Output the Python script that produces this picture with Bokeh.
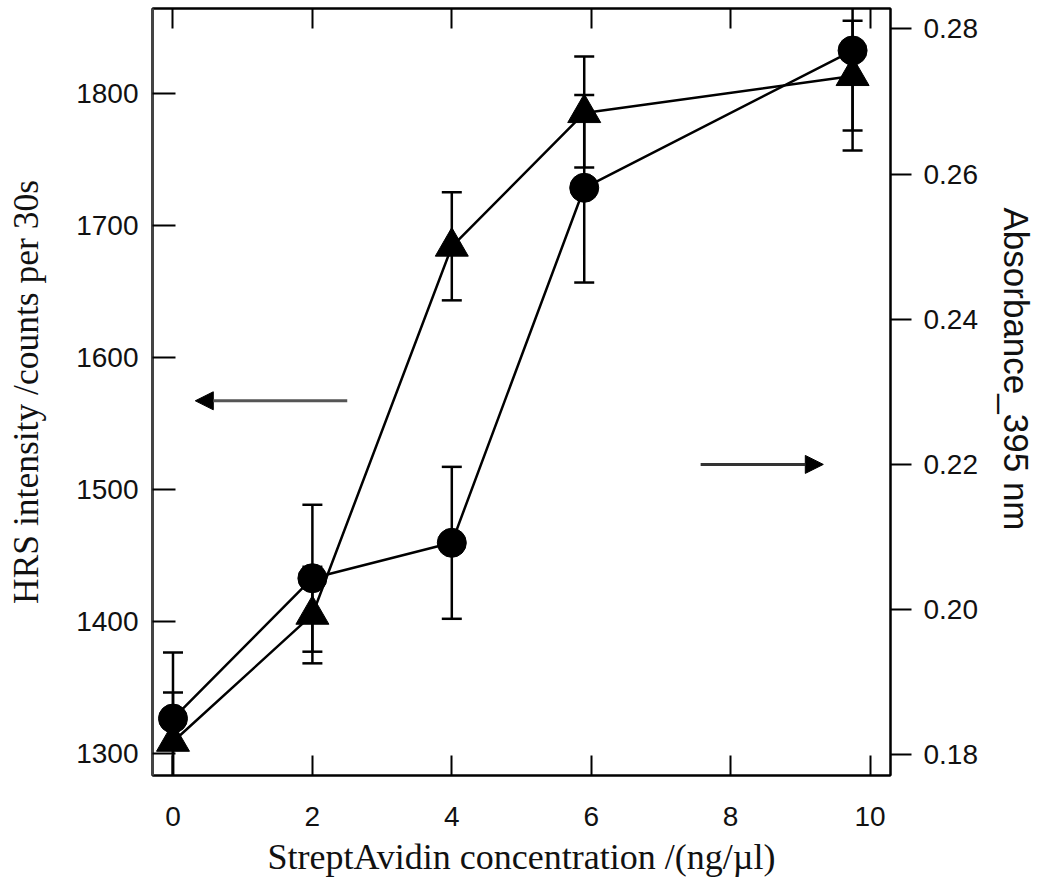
from bokeh.plotting import figure
from bokeh.models import (LinearAxis, Range1d, FixedTicker, NumeralTickFormatter,
                          Arrow, NormalHead, Title, CustomJSTickFormatter)
from bokeh.embed import file_html
from bokeh.resources import INLINE

# ---- data ----
conc = [0, 2, 4, 5.9, 9.75]
hrs = [1326.7, 1432.9, 1459.7, 1728.4, 1832.3]
hrs_lo = [1276.7, 1377.3, 1402.2, 1656.7, 1756.6]
hrs_hi = [1376.7, 1488.5, 1517.2, 1798.6, 1908.0]
absb = [0.1818, 0.1993, 0.2500, 0.2684, 0.2735]
abs_lo = [0.1751, 0.1926, 0.2426, 0.2609, 0.2660]
abs_hi = [0.1886, 0.2059, 0.2575, 0.2762, 0.2811]

x_ticks = [0, 2, 4, 6, 8, 10]
hrs_ticks = [1300, 1400, 1500, 1600, 1700, 1800]
abs_ticks = [0.18, 0.20, 0.22, 0.24, 0.26, 0.28]

# arrows: (x_start, x_end, y)
left_arrow = [2.5, 0.32, 1567.2]
right_arrow = [7.57, 9.33, 0.22]

SANS = "Liberation Sans"
SERIF = "Liberation Serif"
INK = "#111111"

p = figure(width=1050, height=892, x_range=(-0.294, 10.294), y_range=(1283.6, 1864.1),
           output_backend="svg", toolbar_location=None,
           min_border_left=152, min_border_right=160, min_border_top=8, min_border_bottom=117,
           background_fill_color="white", border_fill_color="white")
p.grid.visible = False
p.outline_line_color = "black"
p.outline_line_width = 2

p.extra_y_ranges = {"abs": Range1d(0.17715, 0.2828)}

# bottom axis
xa = p.xaxis[0]
xa.ticker = FixedTicker(ticks=x_ticks)
xa.major_tick_in = 20
xa.major_tick_out = 0
xa.minor_tick_line_color = None
xa.major_tick_line_width = 2
xa.axis_line_width = 2
xa.major_label_text_font = SANS
xa.major_label_text_font_size = "28px"
xa.major_label_text_color = INK
xa.major_label_standoff = 31
xa.axis_label = "StreptAvidin concentration /(ng/µl)"
xa.axis_label_text_font = SERIF
xa.axis_label_text_font_size = "36px"
xa.axis_label_text_font_style = "normal"
xa.axis_label_text_color = INK
xa.axis_label_standoff = 8

# left axis
ya = p.yaxis[0]
ya.ticker = FixedTicker(ticks=hrs_ticks)
ya.major_tick_in = 23
ya.major_tick_out = 0
ya.minor_tick_line_color = None
ya.major_tick_line_width = 2
ya.axis_line_width = 3
ya.axis_line_color = "#444444"
ya.major_label_text_font = SANS
ya.major_label_text_font_size = "28px"
ya.major_label_text_color = INK
ya.major_label_standoff = 14
ya.axis_label = "HRS intensity /counts per 30s"
ya.axis_label_text_font = SERIF
ya.axis_label_text_font_size = "35.5px"
ya.axis_label_text_font_style = "normal"
ya.axis_label_text_color = INK
ya.axis_label_standoff = 27

# right axis
ra = LinearAxis(y_range_name="abs", ticker=FixedTicker(ticks=abs_ticks),
                formatter=NumeralTickFormatter(format="0.00"))
ra.major_tick_in = 0
ra.major_tick_out = 21
ra.minor_tick_line_color = None
ra.major_tick_line_width = 2
ra.axis_line_width = 2
ra.major_label_text_font = SANS
ra.major_label_text_font_size = "28px"
ra.major_label_text_color = INK
ra.major_label_standoff = 12
p.add_layout(ra, "right")

right_title = Title(text="Absorbance_395 nm", align="left", offset=199, standoff=28,
                    vertical_align="top",
                    text_font=SANS, text_font_size="35px", text_font_style="normal",
                    text_color=INK)
p.add_layout(right_title, "right")

# top axis (ticks only)
ta = LinearAxis(ticker=FixedTicker(ticks=x_ticks),
                formatter=CustomJSTickFormatter(code="return ''"))
ta.major_tick_in = 20
ta.major_tick_out = 0
ta.minor_tick_line_color = None
ta.major_tick_line_width = 2
ta.axis_line_width = 2
ta.major_label_standoff = 0
p.add_layout(ta, "above")

# lines
p.line(conc, hrs, line_color="black", line_width=2.5)
p.line(conc, absb, line_color="black", line_width=2.5, y_range_name="abs")

# error bars
p.segment(x0=conc, y0=hrs_lo, x1=conc, y1=hrs_hi, line_color="black", line_width=2.5)
p.scatter(conc, hrs_lo, marker="dash", size=20, line_color="black", line_width=2.5)
p.scatter(conc, hrs_hi, marker="dash", size=20, line_color="black", line_width=2.5)
p.segment(x0=conc, y0=abs_lo, x1=conc, y1=abs_hi, line_color="black", line_width=2.5,
          y_range_name="abs")
p.scatter(conc, abs_lo, marker="dash", size=20, line_color="black", line_width=2.5,
          y_range_name="abs")
p.scatter(conc, abs_hi, marker="dash", size=20, line_color="black", line_width=2.5,
          y_range_name="abs")

# markers
p.scatter(conc, hrs, marker="circle", size=29, fill_color="black", line_color="black")
p.scatter(conc, absb, marker="triangle", size=33, fill_color="black", line_color="black",
          y_range_name="abs")

# arrows
p.add_layout(Arrow(end=NormalHead(size=18, fill_color="black", line_color="black"),
                   x_start=left_arrow[0], x_end=left_arrow[1],
                   y_start=left_arrow[2], y_end=left_arrow[2],
                   line_color="#555555", line_width=3))
p.add_layout(Arrow(end=NormalHead(size=18, fill_color="black", line_color="black"),
                   x_start=right_arrow[0], x_end=right_arrow[1],
                   y_start=right_arrow[2], y_end=right_arrow[2],
                   line_color="#333333", line_width=3, y_range_name="abs"))

open("out.html", "w").write(file_html(p, INLINE))
